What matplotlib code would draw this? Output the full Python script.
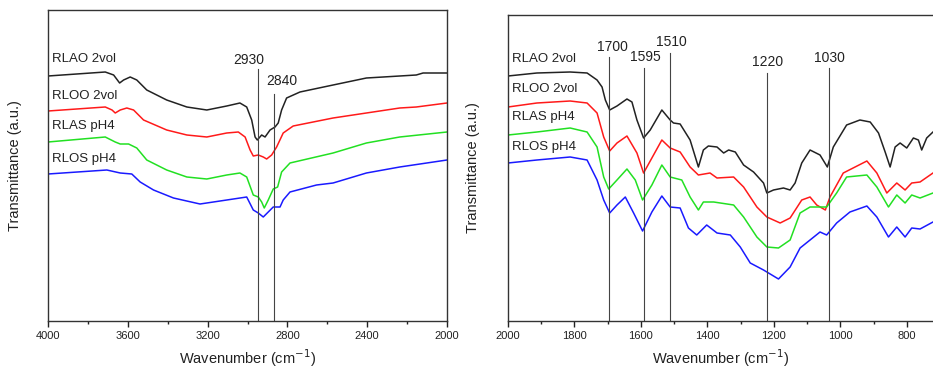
import matplotlib
matplotlib.use("Agg")
import matplotlib.pyplot as plt

plt.rcParams['font.family'] = ['Liberation Sans', 'DejaVu Sans']

series_names = ["RLAO 2vol", "RLOO 2vol", "RLAS pH4", "RLOS pH4"]
series_colors = ["#222222", "#ff1a1a", "#22e022", "#1a1aff"]

# ---- left panel: 4000-2000 cm-1 ----
l_wn_rlao = [4000, 3713, 3671, 3641, 3621, 3588, 3555, 3505, 3405, 3304, 3204, 3104, 3038, 3004, 2979, 2962,
             2951, 2929, 2912, 2887, 2862, 2846, 2829, 2804, 2737, 2571, 2404, 2320, 2154, 2120, 2000]
l_t_rlao = [245, 249, 246, 238, 241, 244, 241, 231, 221, 214, 211, 215, 218, 214, 201, 184,
            181, 186, 184, 191, 194, 198, 211, 223, 229, 236, 243, 244, 246, 248, 248]
l_wn_rloo = [4000, 3713, 3679, 3663, 3638, 3605, 3571, 3521, 3405, 3304, 3204, 3104, 3046, 3012, 2987, 2971,
             2946, 2921, 2904, 2879, 2854, 2821, 2771, 2571, 2404, 2237, 2154, 2000]
l_t_rloo = [210, 214, 211, 208, 211, 213, 211, 201, 191, 186, 184, 188, 189, 184, 171, 165,
            166, 164, 162, 166, 174, 188, 195, 203, 208, 213, 214, 218]
l_wn_rlas = [4000, 3713, 3663, 3638, 3596, 3555, 3505, 3405, 3304, 3204, 3104, 3038, 3004, 2971, 2946, 2929,
             2916, 2896, 2871, 2849, 2829, 2787, 2571, 2404, 2237, 2000]
l_t_rlas = [179, 184, 179, 177, 177, 173, 161, 151, 144, 142, 146, 148, 144, 126, 124, 119,
            113, 121, 132, 134, 149, 158, 168, 178, 184, 189]
l_wn_rlos = [4000, 3705, 3638, 3580, 3538, 3471, 3371, 3238, 3104, 3004, 2971, 2946, 2921, 2896, 2871, 2837,
             2821, 2787, 2654, 2571, 2404, 2237, 2000]
l_t_rlos = [147, 151, 148, 147, 139, 131, 123, 117, 121, 124, 111, 108, 104, 109, 114, 114,
            121, 129, 136, 138, 148, 154, 161]

# ---- right panel: 2000-720 cm-1 ----
r_wn_rlao = [2000, 1913, 1813, 1762, 1732, 1717, 1707, 1694, 1672, 1642, 1627, 1612, 1592, 1572, 1537, 1512,
             1502, 1482, 1452, 1427, 1412, 1397, 1371, 1351, 1336, 1316, 1291, 1261, 1231, 1221, 1201, 1171,
             1151, 1136, 1116, 1091, 1061, 1039, 1021, 981, 941, 910, 885, 865, 850, 835, 820, 800, 780, 765,
             755, 740, 721]
r_t_rlao = [245, 248, 249, 248, 241, 234, 221, 211, 215, 222, 219, 201, 183, 191, 211, 201,
            198, 197, 181, 154, 171, 175, 174, 168, 171, 169, 156, 149, 138, 128, 131, 133,
            131, 138, 158, 171, 166, 154, 174, 196, 201, 199, 188, 169, 154, 174, 178, 173, 183, 181,
            171, 183, 189]
r_wn_rloo = [2000, 1913, 1813, 1762, 1732, 1712, 1694, 1672, 1642, 1612, 1592, 1567, 1537, 1512, 1482, 1452,
             1427, 1392, 1371, 1321, 1291, 1251, 1221, 1181, 1151, 1116, 1091, 1071, 1045, 1031, 991, 920,
             890, 860, 830, 805, 785, 760, 721]
r_t_rloo = [214, 218, 220, 218, 208, 184, 170, 178, 185, 168, 148, 163, 181, 173, 169, 154,
            146, 148, 143, 144, 134, 114, 104, 98, 103, 121, 124, 116, 111, 124, 148, 160,
            148, 128, 138, 131, 138, 139, 148]
r_wn_rlas = [2000, 1913, 1813, 1762, 1732, 1712, 1697, 1672, 1642, 1617, 1595, 1567, 1537, 1512, 1477, 1452,
             1427, 1412, 1381, 1321, 1291, 1251, 1221, 1186, 1151, 1121, 1091, 1061, 1041, 1011, 981, 920,
             890, 855, 830, 805, 785, 760, 721]
r_t_rlas = [186, 189, 193, 189, 174, 144, 132, 141, 152, 141, 121, 136, 156, 144, 141, 124,
            111, 119, 119, 116, 104, 84, 74, 73, 81, 108, 114, 114, 114, 128, 144, 146,
            134, 114, 126, 118, 126, 123, 128]
r_wn_rlos = [2000, 1913, 1813, 1762, 1732, 1712, 1694, 1672, 1647, 1622, 1595, 1567, 1537, 1512, 1482, 1457,
             1432, 1402, 1371, 1331, 1301, 1271, 1231, 1186, 1151, 1121, 1091, 1061, 1041, 1011, 971, 920,
             890, 855, 830, 805, 785, 760, 721]
r_t_rlos = [158, 161, 164, 161, 141, 121, 108, 116, 124, 108, 90, 109, 125, 114, 113, 93,
            86, 96, 88, 86, 74, 58, 51, 42, 54, 73, 81, 89, 86, 98, 109, 115,
            104, 84, 94, 84, 93, 92, 99]

# peak marker lines: label, line position, line top, label x, label y
l_peaks = ["2930", "2840"]
l_peak_pos = [2948, 2865]
l_peak_top = [252, 227]
l_peak_lx = [2993, 2828]
l_peak_ly = [261, 240]

r_peaks = ["1700", "1595", "1510", "1220", "1030"]
r_peak_pos = [1696, 1592, 1511, 1221, 1035]
r_peak_top = [264, 253, 268, 248, 253]
r_peak_lx = [1686, 1587, 1509, 1220, 1032]
r_peak_ly = [274, 264, 279, 259, 263]

# series name labels
l_name_x = 3978
l_name_y = [262, 225, 195, 162]
r_name_x = 1987
r_name_y = [262, 232, 204, 174]

fig = plt.figure(figsize=(9.33, 3.68), dpi=100)
ax1 = fig.add_axes([48 / 933, 47 / 368, 399 / 933, 311 / 368])
ax2 = fig.add_axes([508 / 933, 47 / 368, 425 / 933, 306 / 368])

left_data = [(l_wn_rlao, l_t_rlao), (l_wn_rloo, l_t_rloo), (l_wn_rlas, l_t_rlas), (l_wn_rlos, l_t_rlos)]
right_data = [(r_wn_rlao, r_t_rlao), (r_wn_rloo, r_t_rloo), (r_wn_rlas, r_t_rlas), (r_wn_rlos, r_t_rlos)]

for (x, y), c in zip(left_data, series_colors):
    ax1.plot(x, y, color=c, lw=1.1)
for (x, y), c in zip(right_data, series_colors):
    ax2.plot(x, y, color=c, lw=1.1)

for name, y in zip(series_names, l_name_y):
    ax1.text(l_name_x, y, name, fontsize=9.5, ha='left', va='center', color='#222222')
for name, y in zip(series_names, r_name_y):
    ax2.text(r_name_x, y, name, fontsize=9.5, ha='left', va='center', color='#222222')

for lab, p, top, lx, ly in zip(l_peaks, l_peak_pos, l_peak_top, l_peak_lx, l_peak_ly):
    ax1.plot([p, p], [0, top], color='#444444', lw=0.8)
    ax1.text(lx, ly, lab, fontsize=10, ha='center', va='center', color='#222222')
for lab, p, top, lx, ly in zip(r_peaks, r_peak_pos, r_peak_top, r_peak_lx, r_peak_ly):
    ax2.plot([p, p], [0, top], color='#444444', lw=0.8)
    ax2.text(lx, ly, lab, fontsize=10, ha='center', va='center', color='#222222')

ax1.set_xlim(4000, 2000)
ax1.set_ylim(0, 311)
ax1.set_xticks([4000, 3600, 3200, 2800, 2400, 2000])
ax1.set_xticks([3800, 3400, 3000, 2600, 2200], minor=True)

ax2.set_xlim(2000, 721)
ax2.set_ylim(0, 306)
ax2.set_xticks([2000, 1800, 1600, 1400, 1200, 1000, 800])
ax2.set_xticks([1900, 1700, 1500, 1300, 1100, 900], minor=True)
ax2.spines['right'].set_visible(False)

for ax in (ax1, ax2):
    ax.set_yticks([])
    ax.tick_params(axis='x', which='major', direction='out', length=4, width=1, labelsize=8, pad=3, colors='#222222')
    ax.tick_params(axis='x', which='minor', direction='out', length=2.5, width=1, colors='#222222')
    for s in ax.spines.values():
        s.set_color('#333333')
        s.set_linewidth(1.0)
    ax.set_xlabel("Wavenumber (cm$^{-1}$)", fontsize=10.5, labelpad=4.5, color='#222222')
    ax.set_ylabel("Transmittance (a.u.)", fontsize=10.5, color='#222222')

ax1.yaxis.set_label_coords(-0.065, 0.5)
ax2.yaxis.set_label_coords(-0.066, 0.5)

fig.savefig("out.png", dpi=100)
